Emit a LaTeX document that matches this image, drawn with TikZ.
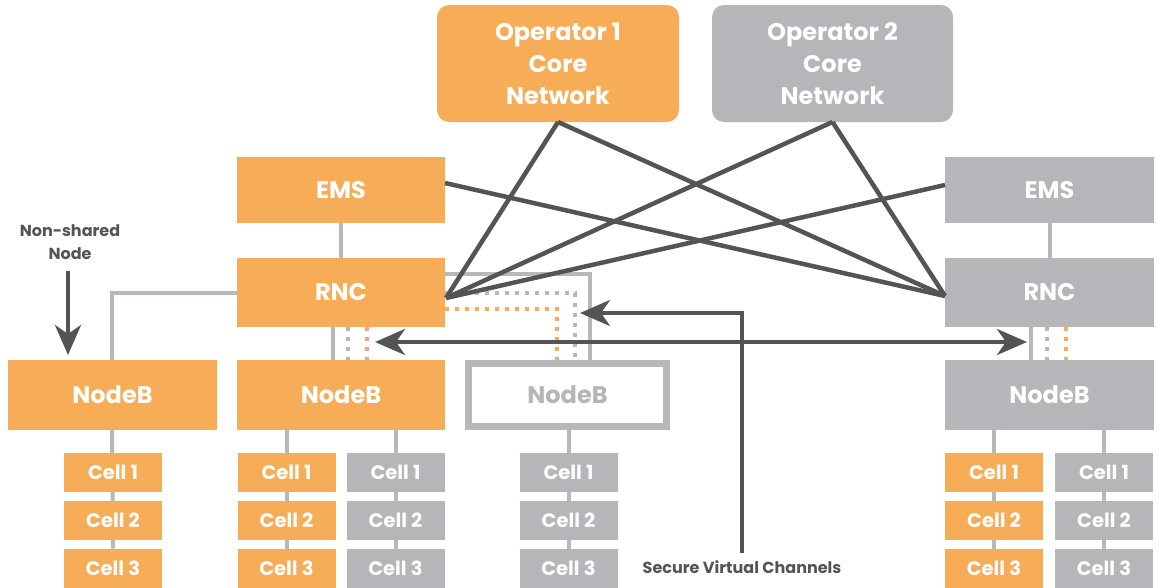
\documentclass[tikz,border=0pt]{standalone}
\usepackage{fontspec}
\setmainfont{Poppins}
\usetikzlibrary{arrows.meta,backgrounds,calc}
\definecolor{orng}{RGB}{247,173,87}
\definecolor{gbox}{RGB}{182,181,185}
\definecolor{gline}{RGB}{184,183,187}
\definecolor{dark}{RGB}{84,84,86}
\definecolor{salmon}{RGB}{245,160,140}
\begin{document}
\begin{tikzpicture}[x=1pt,y=-1pt,
  box/.style={inner sep=0pt, outer sep=0pt, text=white, font=\fontsize{24}{32}\selectfont\bfseries},
  obox/.style={box, fill=orng},
  gybox/.style={box, fill=gbox},
  wide/.style={minimum width=208pt, minimum height=67pt},
  cellbox/.style={inner sep=0pt, outer sep=0pt, text=white, minimum width=98pt, minimum height=39pt, font=\fontsize{19.5}{20}\selectfont\bfseries},
  ocell/.style={cellbox, fill=orng},
  gcell/.style={cellbox, fill=gbox},
  lgray/.style={draw=gline, line width=4pt},
  darkline/.style={draw=dark, line width=4.5pt},
  dots/.style={line width=4pt, dash pattern=on 4pt off 6pt},
  bigtip/.tip={Stealth[length=30pt,width=26pt,inset=9pt]},
  lbl/.style={text=dark, font=\fontsize{16}{23}\selectfont\bfseries, align=center, inner sep=0pt}
]
\useasboundingbox (0,0) rectangle (1160,587);

% operator boxes
\node[obox, rounded corners=12pt, minimum width=242pt, minimum height=117pt, align=center] (op1) at (558,63.5) {Operator 1\\Core\\Network};
\node[gybox, rounded corners=12pt, minimum width=241pt, minimum height=117pt, align=center] (op2) at (832.5,63.5) {Operator 2\\Core\\Network};

% left side
\node[obox, wide, minimum height=66pt] (emsL) at (341,190) {EMS};
\node[obox, wide, minimum height=69pt] (rncL) at (341,292.5) {RNC};
\node[obox, minimum width=209pt, minimum height=70pt] (nbA) at (112.5,395) {NodeB};
\node[obox, wide, minimum height=70pt] (nbB) at (341,395) {NodeB};
\node[draw=gline, line width=7pt, fill=white, text=gbox, inner sep=0pt, outer sep=0pt, minimum width=198pt, minimum height=63pt, font=\fontsize{24}{32}\selectfont\bfseries] (nbC) at (567.5,395) {NodeB};

% right side
\node[gybox, minimum width=209pt, minimum height=66pt] (emsR) at (1049.5,190) {EMS};
\node[gybox, minimum width=209pt, minimum height=69pt] (rncR) at (1049.5,292.5) {RNC};
\node[gybox, minimum width=209pt, minimum height=70pt] (nbR) at (1049.5,395) {NodeB};

% cells
\foreach \r/\y in {1/472,2/520,3/568}{
  \node[ocell] (cA\r) at (113,\y) {Cell \r};
  \node[ocell] (cB\r) at (286.5,\y) {Cell \r};
  \node[gcell] (cC\r) at (395.5,\y) {Cell \r};
  \node[gcell] (cD\r) at (568.5,\y) {Cell \r};
  \node[ocell] (cE\r) at (994,\y) {Cell \r};
  \node[gcell] (cF\r) at (1104,\y) {Cell \r};
}

% helper coordinates
\coordinate (pL) at ($(rncL.east)+(1,5.5)$);
\coordinate (pR) at ($(rncR.west)+(0,3.5)$);
\coordinate (eL) at ($(emsL.east)+(0,-7)$);
\coordinate (eR) at ($(emsR.west)+(0,-5)$);
\coordinate (gL) at ($(rncL.west)+(0,0)$);
\coordinate (gK) at (112,292.5);
\coordinate (hT) at ($(rncL.east)+(0,-18.5)$);
\coordinate (hC) at (590,274);
\coordinate (dG1) at ($(rncL.east)+(0,0)$);
\coordinate (dG2) at (575,292.5);
\coordinate (dG3) at (575,358);
\coordinate (dO1) at ($(rncL.east)+(0,16)$);
\coordinate (dO2) at (557,308.5);
\coordinate (svc) at (742,553);
\coordinate (svcK) at (742,313);
\coordinate (nsT) at (68,271);

\begin{scope}[on background layer]
  % light gray connectors
  \draw[lgray] (emsL.south) -- (rncL.north);
  \draw[lgray] (emsR.south) -- (rncR.north);
  \draw[lgray] (gL) -- (gK) -- (gK |- nbA.north);
  \draw[lgray] (nbA.south -| gK) -- (cA3.north);
  \draw[lgray] (rncL.south -| 333,0) -- (nbB.north -| 333,0);
  \draw[lgray] (hT) -- (hC) -- (hC |- nbC.north);
  \draw[lgray] (rncR.south -| 1031,0) -- (nbR.north -| 1031,0);
  \draw[lgray] (nbB.south -| cB1) -- (cB3.north);
  \draw[lgray] (nbB.south -| cC1) -- (cC3.north);
  \draw[lgray] (nbC.south -| cD1) -- (cD3.north);
  \draw[lgray] (nbR.south -| cE1) -- (cE3.north);
  \draw[lgray] (nbR.south -| cF1) -- (cF3.north);
  % dotted channels
  \draw[dots, gline] (dG1) -- (dG2) -- (dG3);
  \draw[dots, orng] (dO1) -- (dO2) -- (dO2 |- nbC.north);
  \draw[dots, gline] (rncL.south -| 348,0) -- (nbB.north -| 348,0);
  \draw[dots, salmon] (rncL.south -| 367,0) -- (nbB.north -| 367,0);
  \draw[dots, gline] (rncR.south -| 1047,0) -- (nbR.north -| 1047,0);
  \draw[dots, orng] (rncR.south -| 1066,0) -- (nbR.north -| 1066,0);
\end{scope}

% core network crossing lines
\draw[darkline] (op1.south) -- (pL);
\draw[darkline] (op1.south) -- (pR);
\draw[darkline] (op2.south) -- (pL);
\draw[darkline] (op2.south) -- (pR);
\draw[darkline] (eL) -- (pR);
\draw[darkline] (eR) -- (pL);

% arrows
\coordinate (aL) at (375,342);
\coordinate (aR) at (1027,342);
\draw[darkline, bigtip-bigtip] (aL) -- (aR);
\draw[darkline, -bigtip, line join=miter] (svc) -- (svcK) -- (580,313);
\draw[darkline, -bigtip] (nsT) -- (68,355);

% labels
\node[lbl] (ns) at (70,242) {Non-shared\\Node};
\node[lbl] (sv) at (742,567) {Secure Virtual Channels};
\end{tikzpicture}
\end{document}
